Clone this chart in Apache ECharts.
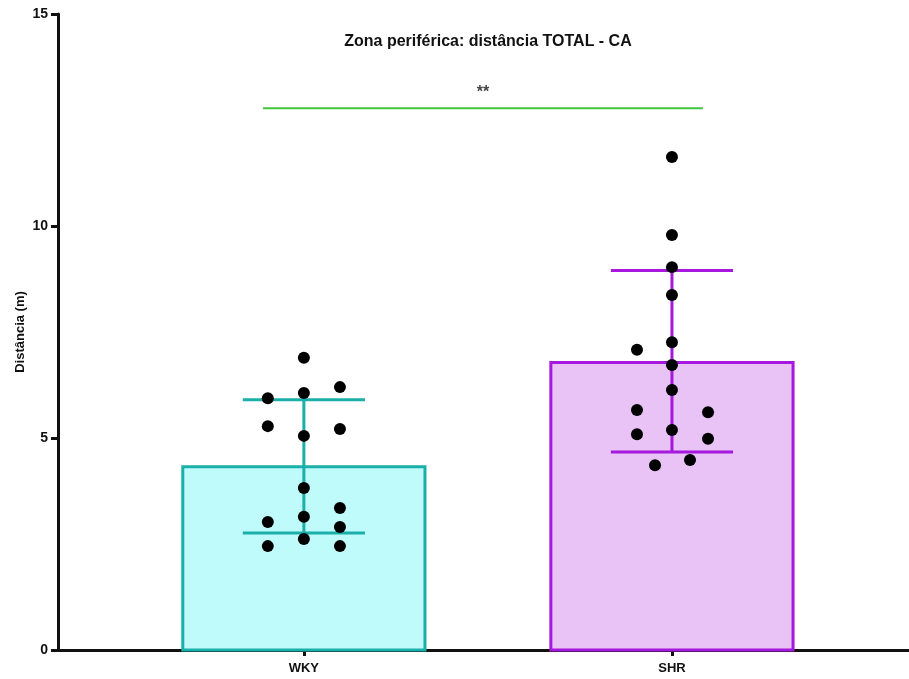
<!DOCTYPE html>
<html>
<head>
<meta charset="utf-8">
<script src="https://cdn.jsdelivr.net/npm/echarts@6/dist/echarts.min.js"></script>
<style>
html, body { margin: 0; padding: 0; background: #fff; }
#chart { width: 909px; height: 679px; }
</style>
</head>
<body>
<div id="chart"></div>
<script>
// grupos
var groups = ['WKY', 'SHR'];
// media e desvio (limites da barra de erro)
var means = [4.32, 6.78];
var errLow = [2.76, 4.67];
var errHigh = [5.90, 8.95];
// pontos individuais
var wkyValues = [6.89, 5.94, 6.06, 6.20, 5.28, 5.05, 5.21, 3.82, 3.35, 3.02, 3.14, 2.90, 2.62, 2.45, 2.45];
var wkyJitter = [0, -0.098, 0, 0.098, -0.098, 0, 0.098, 0, 0.098, -0.098, 0, 0.098, 0, -0.098, 0.098];
var shrValues = [11.63, 9.79, 9.03, 8.37, 7.08, 7.26, 6.72, 6.13, 5.66, 5.61, 5.19, 5.09, 4.98, 4.48, 4.36];
var shrJitter = [0, 0, 0, 0, -0.095, 0, 0, 0, -0.095, 0.098, 0, -0.095, 0.098, 0.049, -0.046];
// significancia
var sigY = 12.78;
var sigFrom = 0.889;
var sigTo = 2.084;
var sigText = '**';

var strokes = ['#1AAFA9', '#A618DD'];
var fills = ['#C0FBFC', '#E9C3F6'];

var chart = echarts.init(document.getElementById('chart'));

function points(vals, jit, idx) {
    var out = [];
    for (var i = 0; i < vals.length; i++) {
        out.push([idx + 1 + jit[i], vals[i]]);
    }
    return out;
}

var barData = [];
for (var i = 0; i < groups.length; i++) {
    barData.push([i + 1, means[i], errLow[i], errHigh[i], i]);
}

var option = {
    animation: false,
    title: {
        text: 'Zona periférica: distância TOTAL - CA',
        left: 483,
        top: 29,
        textAlign: 'center',
        textStyle: { fontFamily: 'Liberation Sans', fontSize: 16, fontWeight: 'bold', color: '#111' }
    },
    grid: { left: 58, right: 0, top: 14, bottom: 29, outerBoundsMode: 'none' },
    xAxis: {
        type: 'value',
        min: 0.332,
        max: 2.644,
        splitLine: { show: false },
        axisLine: { show: true, lineStyle: { color: '#111', width: 3 } },
        axisTick: { show: true, customValues: [1, 2], length: 6, lineStyle: { color: '#111', width: 3 } },
        axisLabel: {
            customValues: [1, 2],
            formatter: function (v) { return groups[Math.round(v) - 1]; },
            fontFamily: 'Liberation Sans', fontSize: 13, fontWeight: 'bold', color: '#111', margin: 12
        }
    },
    yAxis: {
        type: 'value',
        min: 0,
        max: 15,
        interval: 5,
        name: 'Distância (m)',
        nameLocation: 'middle',
        nameGap: 31,
        nameMoveOverlap: false,
        nameTextStyle: { fontFamily: 'Liberation Sans', fontSize: 13, fontWeight: 'bold', color: '#111' },
        splitLine: { show: false },
        axisLine: { show: true, lineStyle: { color: '#111', width: 3 } },
        axisTick: { show: true, length: 7, lineStyle: { color: '#111', width: 3 } },
        axisLabel: { fontFamily: 'Liberation Sans', fontSize: 14, fontWeight: 'bold', color: '#111', margin: 10 }
    },
    series: [
        {
            type: 'custom',
            data: barData,
            z: 2,
            renderItem: function (params, api) {
                var k = api.value(4);
                var x = api.value(0);
                var base = api.coord([x - 0.329, 0]);
                var top = api.coord([x + 0.329, api.value(1)]);
                var lo = api.coord([x, api.value(2)]);
                var hi = api.coord([x, api.value(3)]);
                var capL = api.coord([x - 0.166, 0])[0];
                var capR = api.coord([x + 0.166, 0])[0];
                var ls = { stroke: strokes[k], lineWidth: 3 };
                return {
                    type: 'group',
                    children: [
                        { type: 'rect', shape: { x: base[0], y: top[1], width: top[0] - base[0], height: base[1] - top[1] },
                          style: { fill: fills[k], stroke: strokes[k], lineWidth: 3 } },
                        { type: 'line', shape: { x1: lo[0], y1: lo[1], x2: hi[0], y2: hi[1] }, style: ls },
                        { type: 'line', shape: { x1: capL, y1: hi[1], x2: capR, y2: hi[1] }, style: ls },
                        { type: 'line', shape: { x1: capL, y1: lo[1], x2: capR, y2: lo[1] }, style: ls }
                    ]
                };
            }
        },
        {
            type: 'scatter',
            data: points(wkyValues, wkyJitter, 0),
            symbolSize: 12,
            itemStyle: { color: '#000', opacity: 1 },
            z: 5
        },
        {
            type: 'scatter',
            data: points(shrValues, shrJitter, 1),
            symbolSize: 12,
            itemStyle: { color: '#000', opacity: 1 },
            z: 5
        },
        {
            type: 'line',
            data: [[sigFrom, sigY], [sigTo, sigY]],
            symbol: 'none',
            lineStyle: { color: '#3FC63F', width: 2 },
            z: 4
        },
        {
            type: 'scatter',
            data: [[(sigFrom + sigTo) / 2, sigY]],
            symbolSize: 0,
            label: {
                show: true,
                position: 'top',
                distance: 8,
                formatter: sigText,
                fontFamily: 'Liberation Sans', fontSize: 16, fontWeight: 'bold', color: '#111'
            }
        }
    ]
};

chart.setOption(option);
</script>
</body>
</html>
